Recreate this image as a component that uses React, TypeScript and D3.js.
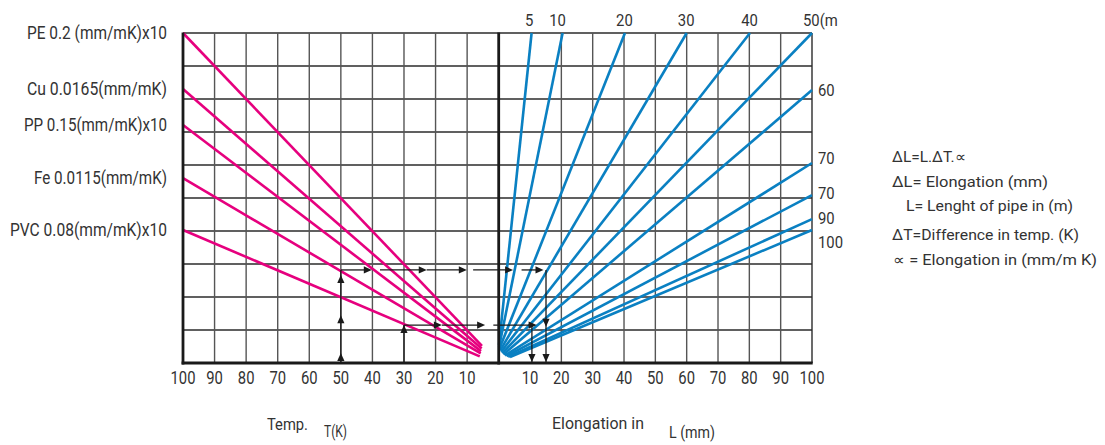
import React from "react";
import * as d3 from "d3";

// ---------------- data ----------------
const tempTicks = [100, 90, 80, 70, 60, 50, 40, 30, 20, 10];
const elongTicks = [10, 20, 30, 40, 50, 60, 70, 80, 90, 100];
const gridLevels = [1, 2, 3, 4, 5, 6, 7, 8, 9];
const leftGridTemps = [90, 80, 70, 60, 50, 40, 30, 20, 10];
const rightGridElong = [20, 30, 40, 50, 60, 70, 80, 90];

const materialNames = [
  "PE 0.2 (mm/mK)x10",
  "Cu 0.0165(mm/mK)",
  "PP 0.15(mm/mK)x10",
  "Fe 0.0115(mm/mK)",
  "PVC 0.08(mm/mK)x10",
];
const materialStartTemp = [100, 100, 100, 100, 100];
const materialStartLevel = [10, 8.3, 7.21, 5.6, 4.03];
const materialEndTemp = [5.3, 5.4, 5.6, 5.7, 6.0];
const materialEndLevel = [0.52, 0.44, 0.36, 0.29, 0.2];

const pipeLengths = ["5", "10", "20", "30", "40", "50(m", "60", "70", "70", "90", "100"];
const pipeStartElong = [0.1, 0.13, 0.26, 0.48, 0.77, 1.12, 1.5, 1.98, 2.5, 3.03, 3.6];
const pipeStartLevel = [0.55, 0.49, 0.44, 0.38, 0.34, 0.3, 0.26, 0.23, 0.21, 0.19, 0.18];
const pipeEndElong = [10.5, 20.4, 40.3, 60, 80.2, 100, 100, 100, 100, 100, 100];
const pipeEndLevel = [10, 10, 10, 10, 10, 10, 8.27, 6.06, 5.09, 4.36, 4.03];

// reading examples (signed axis: negative = temperature side, positive = elongation side)
const readingRiseAt = [-50, -30];
const readingLevel = [2.82, 1.15];
const readingRiseTips = [[2.67, 1.45, 0.3], [1.15]];
const readingRuns = [
  [[-50, -40.2], [-37.6, -22.8], [-22.8, -10.1], [-8.1, 4.6], [7.3, 14.3]],
  [[-30, -18], [-18, -4.3], [-1.7, 12.1]],
];
const readingDropAt = [15.1, 10.6];
const readingDropTips = [[1.1, 0.03], [0.03]];

const formulaLines = [
  "\u0394L=L.\u0394T.\u221D",
  "\u0394L= Elongation  (mm)",
  "L= Lenght of pipe in (m)",
  "\u0394T=Difference in temp. (K)",
  "\u221D = Elongation in  (mm/m K)",
];

// ---------------- layout ----------------
const W = 1105;
const H = 445;
const FONT = "Roboto, 'Liberation Sans', Arial, sans-serif";
const TXT = "#333";
const PINK = "#e6007e";
const BLUE = "#0a80c2";

const x = d3.scaleLinear().domain([-100, 0, 100]).range([183, 498.7, 812]);
const y = d3.scaleLinear().domain([0, 10]).range([363, 33]);

const materialLabelWidths = [140, 140, 143, 133, 157];
const pipeSideLabelLevels = [8.27, 6.21, 5.15, 4.39, 3.67];
const formulaX = [892, 892, 906, 892, 893];
const formulaY = [162, 187, 211, 240, 265];
const formulaW = [74, 156, 167, 187, 204];

function head(tx: number, ty: number, dx: number, dy: number) {
  const L = 8, Wd = 3.6;
  const bx = tx - dx * L, by = ty - dy * L;
  const px = -dy, py = dx;
  return `M${tx},${ty}L${bx + px * Wd},${by + py * Wd}L${bx - px * Wd},${by - py * Wd}Z`;
}

function SText(props: { x: number; y: number; size: number; sx: number; anchor?: string; children: any }) {
  const { x: tx, y: ty, size, sx, anchor = "middle", children } = props;
  return (
    <text
      transform={`translate(${tx},${ty}) scale(${sx},1)`}
      textAnchor={anchor as any}
      fontSize={size}
      fontFamily={FONT}
      fill={TXT}
    >
      {children}
    </text>
  );
}

function LText(props: { x: number; y: number; size: number; w: number; children: any }) {
  return (
    <text
      x={props.x}
      y={props.y}
      fontSize={props.size}
      fontFamily={FONT}
      fill={TXT}
      textLength={props.w}
      lengthAdjust="spacingAndGlyphs"
    >
      {props.children}
    </text>
  );
}

export default function App() {
  const line = d3.line<[number, number]>().x((d) => x(d[0])).y((d) => y(d[1]));
  const arrowColor = "#1a1a1a";

  return (
    <svg
      width={W}
      height={H}
      viewBox={`0 0 ${W} ${H}`}
      style={{ position: "absolute", left: 0, top: 0, background: "#fff" }}
    >
      {/* grid */}
      <g>
        {gridLevels.map((v) => (
          <line key={"h" + v} x1={x(-100)} x2={x(100)} y1={y(v)} y2={y(v)} stroke="#2b2b2b" strokeWidth={1.3} />
        ))}
        <line x1={x(-100)} x2={x(100)} y1={y(10)} y2={y(10)} stroke="#2b2b2b" strokeWidth={1.4} />
        {leftGridTemps.map((t) => (
          <line key={"vl" + t} x1={x(-t)} x2={x(-t)} y1={y(0)} y2={y(10)} stroke="#555" strokeWidth={1.4} />
        ))}
        {rightGridElong.map((e) => (
          <line key={"vr" + e} x1={x(e)} x2={x(e)} y1={y(0)} y2={y(10)} stroke="#555" strokeWidth={1.4} />
        ))}
        <line x1={x(100)} x2={x(100)} y1={y(0)} y2={y(10)} stroke="#2b2b2b" strokeWidth={1.4} />
      </g>

      {/* material lines (temperature side) */}
      <g>
        {materialNames.map((m, i) => (
          <path
            key={m}
            d={line([
              [-materialStartTemp[i], materialStartLevel[i]],
              [-materialEndTemp[i], materialEndLevel[i]],
            ]) as string}
            stroke={PINK}
            strokeWidth={2.6}
            fill="none"
          />
        ))}
      </g>

      {/* pipe length lines (elongation side) */}
      <g>
        {pipeLengths.map((p, i) => (
          <path
            key={"p" + i}
            d={line([
              [pipeStartElong[i], pipeStartLevel[i]],
              [pipeEndElong[i], pipeEndLevel[i]],
            ]) as string}
            stroke={BLUE}
            strokeWidth={2.6}
            fill="none"
          />
        ))}
      </g>

      {/* reading examples */}
      <g>
        {readingRiseAt.map((rx, k) => {
          const lv = readingLevel[k];
          const dropX = readingDropAt[k];
          return (
            <g key={"r" + k}>
              <line x1={x(rx)} x2={x(rx)} y1={y(0)} y2={y(lv)} stroke={arrowColor} strokeWidth={1.3} />
              {readingRiseTips[k].map((tp, j) => (
                <path key={"u" + j} d={head(x(rx), y(tp), 0, -1)} fill={arrowColor} />
              ))}
              {readingRuns[k].map((seg, j) => (
                <g key={"s" + j}>
                  <line x1={x(seg[0])} x2={x(seg[1]) - 4} y1={y(lv)} y2={y(lv)} stroke={arrowColor} strokeWidth={1.3} />
                  <path d={head(x(seg[1]), y(lv), 1, 0)} fill={arrowColor} />
                </g>
              ))}
              <line x1={x(dropX)} x2={x(dropX)} y1={y(lv)} y2={y(0)} stroke={arrowColor} strokeWidth={1.3} />
              {readingDropTips[k].map((tp, j) => (
                <path key={"d" + j} d={head(x(dropX), y(tp), 0, 1)} fill={arrowColor} />
              ))}
            </g>
          );
        })}
      </g>

      {/* heavy axes */}
      <line x1={x(-100)} x2={x(-100)} y1={y(0) + 1.5} y2={y(10) - 0.5} stroke="#1a1a1a" strokeWidth={2.8} />
      <line x1={x(0)} x2={x(0)} y1={y(0) + 1.5} y2={y(10) - 0.5} stroke="#1a1a1a" strokeWidth={2.8} />
      <line x1={x(-100) - 1.4} x2={x(100) + 0.7} y1={y(0)} y2={y(0)} stroke="#1a1a1a" strokeWidth={2.8} />

      {/* tick labels */}
      {tempTicks.map((t) => (
        <SText key={"tt" + t} x={x(-t)} y={y(0) + 21} size={18.5} sx={0.8}>
          {t}
        </SText>
      ))}
      {elongTicks.map((e) => (
        <SText key={"et" + e} x={x(e)} y={y(0) + 21} size={18.5} sx={0.8}>
          {e}
        </SText>
      ))}

      {/* material labels */}
      {materialNames.map((m, i) => (
        <LText
          key={"ml" + i}
          x={x(-100) - 16 - materialLabelWidths[i]}
          y={y(materialStartLevel[i]) + 6}
          size={19}
          w={materialLabelWidths[i]}
        >
          {m}
        </LText>
      ))}

      {/* pipe length labels: top */}
      {pipeLengths.slice(0, 6).map((p, i) =>
        i < 5 ? (
          <SText key={"pt" + i} x={x(pipeEndElong[i]) - (i === 1 ? 5 : i === 0 ? 2.5 : 0.5)} y={y(10) - 7} size={16.5} sx={0.9}>
            {p}
          </SText>
        ) : (
          <SText key={"pt" + i} x={x(pipeEndElong[i]) - 9} y={y(10) - 7} size={16.5} sx={0.9} anchor="start">
            {p}
          </SText>
        )
      )}
      {/* pipe length labels: right side */}
      {pipeLengths.slice(6).map((p, i) => (
        <SText key={"pr" + i} x={x(100) + 6} y={y(pipeSideLabelLevels[i]) + 6} size={16.5} sx={0.9} anchor="start">
          {p}
        </SText>
      ))}

      {/* axis titles */}
      <LText x={267} y={430} size={17} w={41}>Temp.</LText>
      <LText x={324} y={437} size={16} w={23}>T(K)</LText>
      <LText x={552} y={429} size={17} w={92}>Elongation in</LText>
      <LText x={669} y={438} size={16} w={46}>L (mm)</LText>

      {/* formula block */}
      {formulaLines.map((f, i) => (
        <LText key={"f" + i} x={formulaX[i]} y={formulaY[i]} size={15} w={formulaW[i]}>
          {f}
        </LText>
      ))}
    </svg>
  );
}
